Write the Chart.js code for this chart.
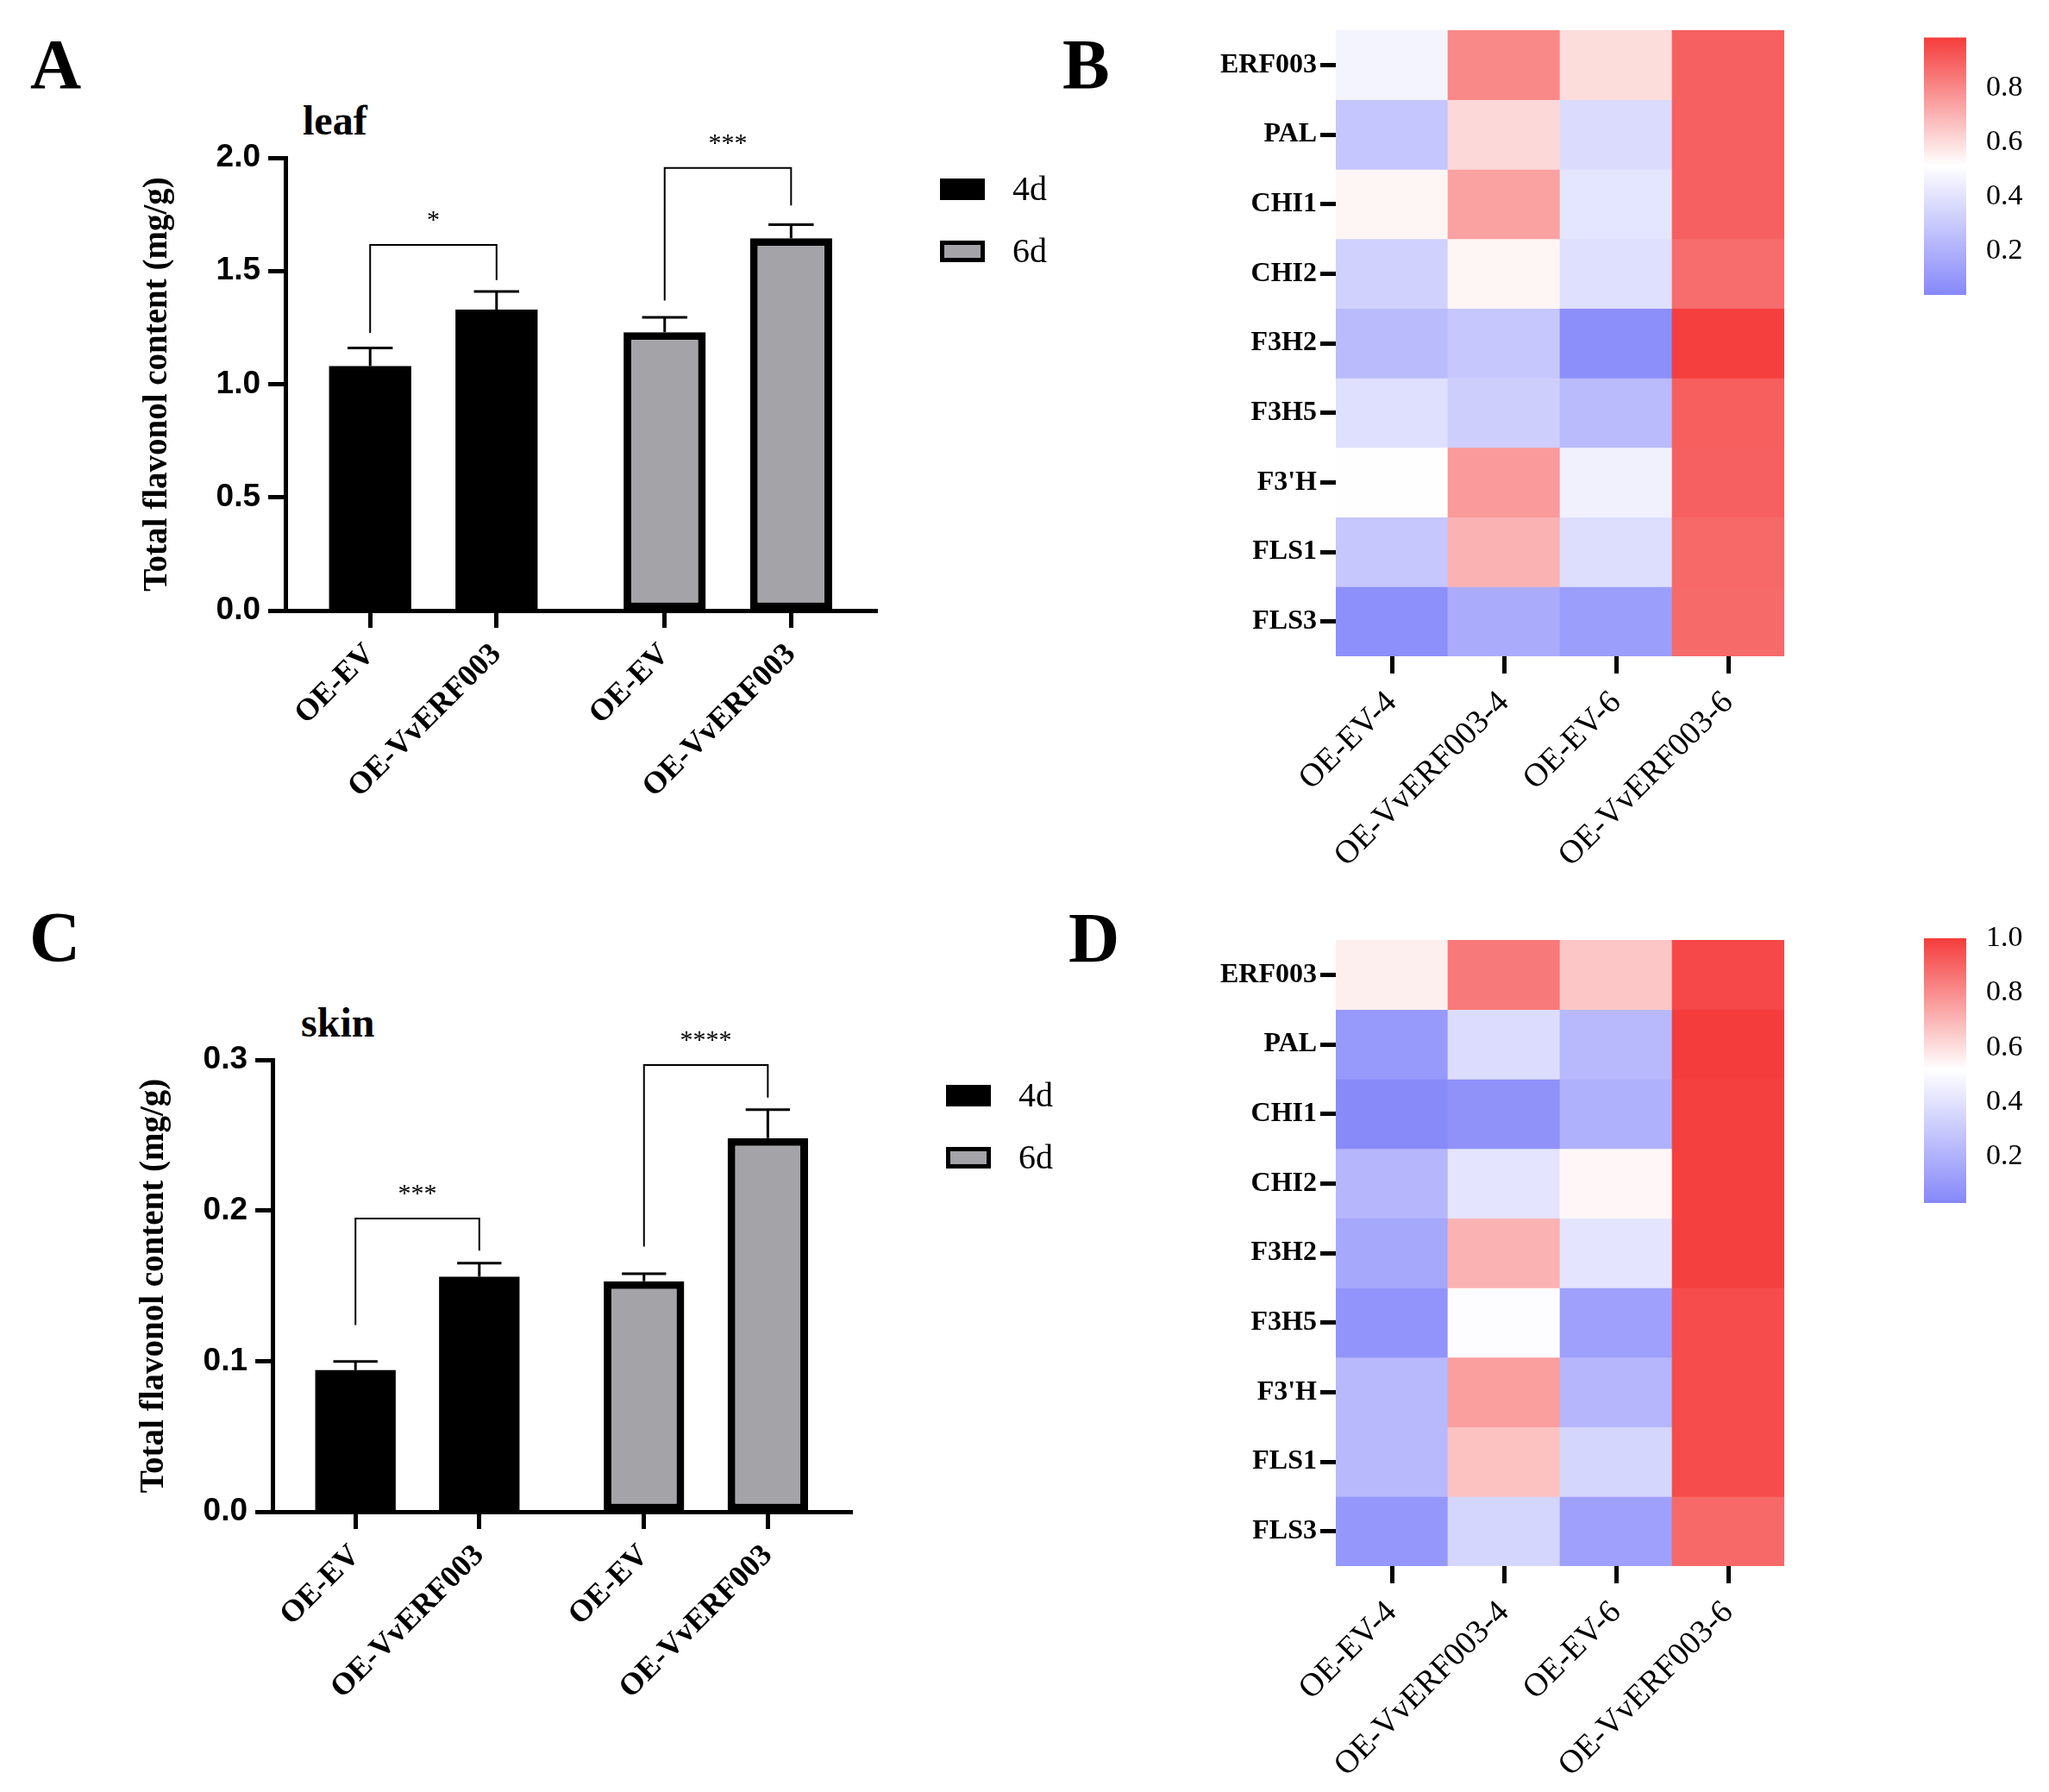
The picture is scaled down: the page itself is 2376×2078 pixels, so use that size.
<!DOCTYPE html>
<html>
<head>
<meta charset="utf-8">
<script src="https://cdn.jsdelivr.net/npm/chart.js@4.4.1/dist/chart.umd.min.js"></script>
<style>
  body { margin: 0; background: #fff; width: 2376px; height: 2078px; position: relative; overflow: hidden; }
  .box { position: absolute; }
  .letter { position: absolute; font: bold 82px "Liberation Serif", serif; line-height: 1; }
  .title { position: absolute; font: bold 48px "Liberation Serif", serif; line-height: 1; }
</style>
</head>
<body>
<div class="letter" style="left:35px;top:34px">A</div>
<div class="letter" style="left:1232px;top:34px">B</div>
<div class="letter" style="left:34px;top:1046px">C</div>
<div class="letter" style="left:1239px;top:1047px">D</div>
<div class="title" style="left:351px;top:116px">leaf</div>
<div class="title" style="left:349px;top:1162px">skin</div>

<div class="box" style="left:0;top:0;width:1240px;height:1040px"><canvas id="leafBars"></canvas></div>
<div class="box" style="left:0;top:1040px;width:1240px;height:1038px"><canvas id="skinBars"></canvas></div>
<div class="box" style="left:1240px;top:0;width:960px;height:1040px"><canvas id="leafHeat"></canvas></div>
<div class="box" style="left:1240px;top:1040px;width:960px;height:1038px"><canvas id="skinHeat"></canvas></div>
<div class="box" style="left:2200px;top:0;width:176px;height:400px"><canvas id="leafBar"></canvas></div>
<div class="box" style="left:2200px;top:1040px;width:176px;height:400px"><canvas id="skinBar"></canvas></div>

<script>
(function() {
  // ------------------------
  // Data
  // ------------------------
  const groups = ['4d', '6d'];
  const lines = ['OE-EV', 'OE-VvERF003', 'OE-EV', 'OE-VvERF003'];
  const lineGroup = [0, 0, 1, 1];

  const leafValues = [1.08, 1.33, 1.23, 1.645];
  const leafErrors = [0.08, 0.08, 0.065, 0.06];
  const leafTicks = [0, 0.5, 1.0, 1.5, 2.0];
  const leafSig = [
    { a: 0, b: 1, top: 1.615, legA: 1.227, legB: 1.46, text: '*' },
    { a: 2, b: 3, top: 1.955, legA: 1.37, legB: 1.79, text: '***' }
  ];

  const skinValues = [0.094, 0.156, 0.153, 0.248];
  const skinErrors = [0.0057, 0.0091, 0.005, 0.019];
  const skinTicks = [0, 0.1, 0.2, 0.3];
  const skinSig = [
    { a: 0, b: 1, top: 0.1946, legA: 0.124, legB: 0.1734, text: '***' },
    { a: 2, b: 3, top: 0.2965, legA: 0.176, legB: 0.275, text: '****' }
  ];

  const genes = ['ERF003', 'PAL', 'CHI1', 'CHI2', 'F3H2', 'F3H5', "F3'H", 'FLS1', 'FLS3'];
  const samples = ['OE-EV-4', 'OE-VvERF003-4', 'OE-EV-6', 'OE-VvERF003-6'];

  const leafHeatValues = [
    [0.47, 0.80, 0.60, 0.90],
    [0.285, 0.61, 0.37, 0.90],
    [0.54, 0.74, 0.41, 0.90],
    [0.33, 0.54, 0.39, 0.87],
    [0.24, 0.29, 0.06, 0.98],
    [0.39, 0.32, 0.24, 0.905],
    [0.51, 0.76, 0.46, 0.90],
    [0.29, 0.70, 0.38, 0.88],
    [0.065, 0.18, 0.125, 0.875]
  ];
  const skinHeatValues = [
    [0.56, 0.85, 0.66, 0.97],
    [0.10, 0.38, 0.23, 1.0],
    [0.04, 0.07, 0.20, 0.99],
    [0.22, 0.41, 0.54, 0.99],
    [0.16, 0.71, 0.41, 0.99],
    [0.08, 0.51, 0.13, 0.96],
    [0.23, 0.76, 0.22, 0.96],
    [0.23, 0.67, 0.35, 0.96],
    [0.09, 0.35, 0.13, 0.89]
  ];
  const leafRange = { min: 0.037, mid: 0.515, max: 0.986 };
  const skinRange = { min: 0.03, mid: 0.52, max: 1.0 };
  const leafBarTicks = [0.2, 0.4, 0.6, 0.8];
  const skinBarTicks = [0.2, 0.4, 0.6, 0.8, 1.0];

  // ------------------------
  // Styles
  // ------------------------
  const SERIF = "'Liberation Serif', 'Times New Roman', serif";
  const SANS = "'Liberation Sans', Arial, sans-serif";
  const GROUP_GAP = 0.33;
  const BLUE = [134, 136, 250], WHITE = [255, 255, 255], RED = [245, 60, 60];

  Chart.defaults.font.family = SERIF;
  Chart.defaults.color = '#000';

  const rgb = c => 'rgb(' + c.map(Math.round).join(',') + ')';
  function heatColor(v, r) {
    const low = v < r.mid;
    const from = low ? BLUE : WHITE, to = low ? WHITE : RED;
    let t = low ? (v - r.min) / (r.mid - r.min) : (v - r.mid) / (r.max - r.mid);
    t = Math.min(1, Math.max(0, t));
    return rgb(from.map((c, i) => c + (to[i] - c) * t));
  }

  const base = {
    responsive: true,
    maintainAspectRatio: false,
    animation: false,
    devicePixelRatio: 1,
    events: []
  };

  // ------------------------
  // Plugins for the bar panels
  // ------------------------
  function errorBars(cap) {
    return {
      id: 'errorBars',
      afterDatasetsDraw(chart) {
        const { ctx } = chart, y = chart.scales.y;
        ctx.save();
        ctx.strokeStyle = '#000';
        ctx.lineWidth = 3;
        chart.data.datasets.forEach((ds, di) => {
          chart.getDatasetMeta(di).data.forEach((bar, i) => {
            const d = ds.data[i];
            const yTop = y.getPixelForValue(d.y + d.err);
            const half = bar.width * cap / 2;
            ctx.beginPath();
            ctx.moveTo(bar.x, bar.y);
            ctx.lineTo(bar.x, yTop);
            ctx.moveTo(bar.x - half, yTop);
            ctx.lineTo(bar.x + half, yTop);
            ctx.stroke();
          });
        });
        ctx.restore();
      }
    };
  }

  function brackets(items, pos) {
    return {
      id: 'brackets',
      afterDraw(chart) {
        const { ctx } = chart, x = chart.scales.x, y = chart.scales.y;
        ctx.save();
        ctx.strokeStyle = '#000';
        ctx.lineWidth = 2;
        ctx.fillStyle = '#000';
        ctx.font = '30px ' + SERIF;
        ctx.textAlign = 'center';
        ctx.textBaseline = 'alphabetic';
        items.forEach(s => {
          const xa = x.getPixelForValue(pos[s.a]), xb = x.getPixelForValue(pos[s.b]);
          const yt = y.getPixelForValue(s.top);
          ctx.beginPath();
          ctx.moveTo(xa, y.getPixelForValue(s.legA));
          ctx.lineTo(xa, yt);
          ctx.lineTo(xb, yt);
          ctx.lineTo(xb, y.getPixelForValue(s.legB));
          ctx.stroke();
          ctx.fillText(s.text, (xa + xb) / 2, yt - 20);
        });
        ctx.restore();
      }
    };
  }

  function boxLegend(o) {
    return {
      id: 'boxLegend',
      afterDraw(chart) {
        const { ctx, chartArea } = chart;
        ctx.save();
        chart.data.datasets.forEach((ds, i) => {
          const x = chartArea.right + o.dx, y = o.top + i * o.step;
          ctx.fillStyle = ds.backgroundColor;
          ctx.fillRect(x, y, 52, 25);
          if (ds.borderWidth) {
            ctx.lineWidth = 5;
            ctx.strokeStyle = ds.borderColor;
            ctx.strokeRect(x + 2.5, y + 2.5, 47, 20);
          }
          ctx.fillStyle = '#000';
          ctx.font = '40px ' + SERIF;
          ctx.textBaseline = 'middle';
          ctx.fillText(ds.label, x + 84, y + 14);
        });
        ctx.restore();
      }
    };
  }

  // ------------------------
  // Bar panels (A, C)
  // ------------------------
  function makeBars(id, o) {
    const pos = lines.map((_, i) => i + lineGroup[i] * GROUP_GAP);
    new Chart(document.getElementById(id), {
      type: 'bar',
      data: {
        datasets: groups.map((g, gi) => ({
          label: g,
          data: lines.map((_, i) => ({ x: pos[i], y: o.values[i], err: o.errors[i] }))
                     .filter((_, i) => lineGroup[i] === gi),
          backgroundColor: gi ? '#a3a3a8' : '#000000',
          borderColor: '#000000',
          borderWidth: gi ? 9 : 0,
          borderSkipped: false,
          grouped: false,
          barPercentage: 0.65,
          categoryPercentage: 1
        }))
      },
      options: Object.assign({}, base, {
        layout: { padding: { left: 140, top: o.top, right: o.right, bottom: o.bottom } },
        plugins: { legend: { display: false }, tooltip: { enabled: false } },
        scales: {
          x: {
            type: 'linear',
            offset: false,
            min: -0.67,
            max: 3 + GROUP_GAP + 0.68,
            afterBuildTicks: s => { s.ticks = pos.map(v => ({ value: v })); },
            afterFit: s => { s.height = 300; },
            ticks: {
              callback: (v, i) => lines[i],
              autoSkip: false, minRotation: 45, maxRotation: 45,
              font: { family: SERIF, size: 36, weight: 'bold' },
              padding: 10
            },
            grid: { offset: false, drawOnChartArea: false, drawTicks: true, tickLength: 20, tickWidth: 5, color: '#000' },
            border: { display: true, width: 5, color: '#000' }
          },
          y: {
            min: o.ticks[0],
            max: o.ticks[o.ticks.length - 1],
            afterBuildTicks: s => { s.ticks = o.ticks.map(v => ({ value: v })); },
            afterFit: s => { s.width = o.yWidth; },
            ticks: {
              callback: v => v.toFixed(1),
              font: { family: SANS, size: 37, weight: 'bold' },
              padding: 9
            },
            title: {
              display: true,
              text: 'Total flavonol content (mg/g)',
              font: { family: SERIF, size: 39, weight: 'bold' },
              padding: { top: o.titlePad, bottom: 0 }
            },
            grid: { drawOnChartArea: false, drawTicks: true, tickLength: 20, tickWidth: 5, color: '#000' },
            border: { display: true, width: 5, color: '#000' }
          }
        }
      }),
      plugins: [errorBars(0.55), brackets(o.sig, pos), boxLegend(o.legend)]
    });
  }

  makeBars('leafBars', {
    values: leafValues, errors: leafErrors, ticks: leafTicks, sig: leafSig,
    top: 183, right: 1240 - 1017, bottom: 1040 - 708 - 300, yWidth: 191, titlePad: 20,
    legend: { dx: 73, top: 207, step: 72 }
  });
  makeBars('skinBars', {
    values: skinValues, errors: skinErrors, ticks: skinTicks, sig: skinSig,
    top: 189, right: 1240 - 988, bottom: 1038 - 713 - 300, yWidth: 176, titlePad: 16,
    legend: { dx: 109, top: 218, step: 72 }
  });

  // ------------------------
  // Heatmaps (B, D)
  // ------------------------
  function makeHeat(id, values, range, top, height) {
    new Chart(document.getElementById(id), {
      type: 'bar',
      data: {
        labels: samples,
        datasets: genes.map((g, r) => ({
          label: g,
          data: samples.map(() => 1),
          backgroundColor: values[r].map(v => heatColor(v, range)),
          borderWidth: 0,
          barPercentage: 1,
          categoryPercentage: 1,
          stack: 'cells'
        }))
      },
      options: Object.assign({}, base, {
        layout: { padding: { left: 60, top: top, right: 131, bottom: height - top - 726 - 250 } },
        plugins: { legend: { display: false }, tooltip: { enabled: false } },
        scales: {
          x: {
            stacked: true,
            afterFit: s => { s.height = 250; },
            ticks: { autoSkip: false, minRotation: 45, maxRotation: 45, font: { family: SERIF, size: 38 }, padding: 12 },
            grid: { offset: false, drawOnChartArea: false, drawTicks: true, tickLength: 20, tickWidth: 5, color: '#000' },
            border: { display: false }
          },
          y: {
            stacked: true,
            min: 0,
            max: genes.length,
            reverse: true,
            afterBuildTicks: s => { s.ticks = genes.map((_, i) => ({ value: i + 0.5 })); },
            afterFit: s => { s.width = 249; },
            ticks: { callback: (v, i) => genes[i], font: { family: SERIF, size: 32, weight: 'bold' }, padding: 4 },
            grid: { drawOnChartArea: false, drawTicks: true, tickLength: 18, tickWidth: 5, color: '#000' },
            border: { display: false }
          }
        }
      })
    });
  }

  makeHeat('leafHeat', leafHeatValues, leafRange, 35, 1040);
  makeHeat('skinHeat', skinHeatValues, skinRange, 50, 1038);

  // ------------------------
  // Colour bars
  // ------------------------
  function makeColorbar(id, range, ticks, top, bottom) {
    new Chart(document.getElementById(id), {
      type: 'bar',
      data: {
        labels: [''],
        datasets: [{
          data: [[range.min, range.max]],
          backgroundColor: c => {
            const chart = c.chart;
            if (!chart.chartArea) return '#fff';
            const y = chart.scales.y;
            const g = chart.ctx.createLinearGradient(0, y.getPixelForValue(range.min), 0, y.getPixelForValue(range.max));
            g.addColorStop(0, rgb(BLUE));
            g.addColorStop((range.mid - range.min) / (range.max - range.min), rgb(WHITE));
            g.addColorStop(1, rgb(RED));
            return g;
          },
          borderWidth: 0,
          barPercentage: 1,
          categoryPercentage: 1
        }]
      },
      options: Object.assign({}, base, {
        layout: { padding: { left: 31, top: top, right: 0, bottom: bottom } },
        plugins: { legend: { display: false }, tooltip: { enabled: false } },
        scales: {
          x: { display: false },
          y: {
            position: 'right',
            min: range.min,
            max: range.max,
            afterBuildTicks: s => { s.ticks = ticks.map(v => ({ value: v })); },
            afterFit: s => { s.width = 96; },
            ticks: { callback: v => v.toFixed(1), font: { family: SERIF, size: 34 }, padding: 23 },
            grid: { display: false, drawTicks: false },
            border: { display: false }
          }
        }
      })
    });
  }

  makeColorbar('leafBar', leafRange, leafBarTicks, 32, 58);
  makeColorbar('skinBar', skinRange, skinBarTicks, 48, 45);
})();
</script>
</body>
</html>
